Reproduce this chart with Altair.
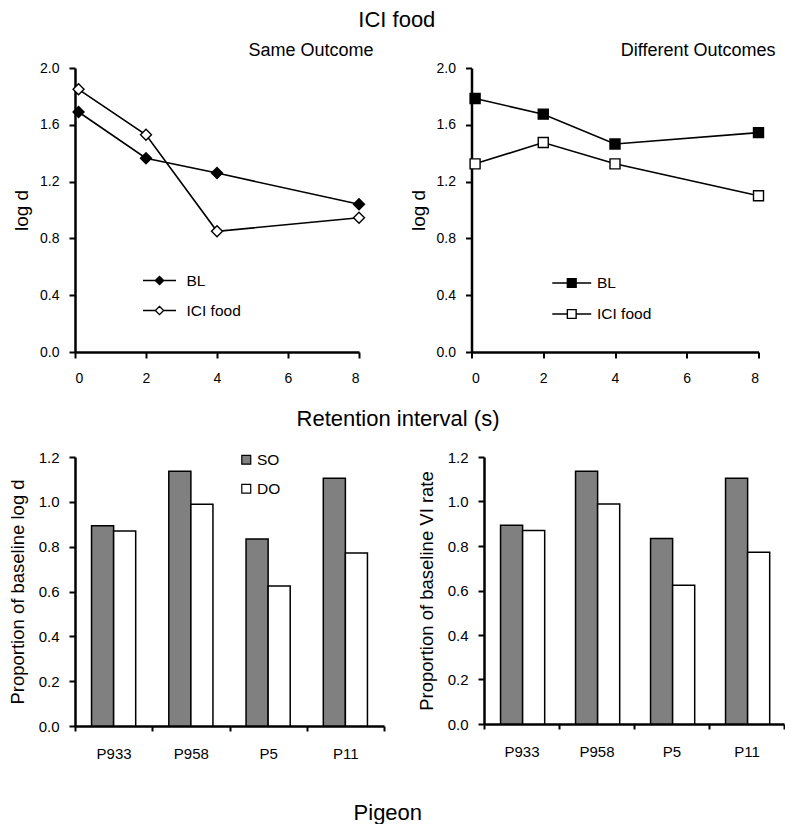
import altair as alt
import pandas as pd

FONT = "Liberation Sans"

# ---- data ----
retention = [0.1, 2, 4, 8]
series_names = ["BL", "ICI food"]
same_bl = [1.69, 1.365, 1.26, 1.04]
same_ici = [1.85, 1.53, 0.85, 0.945]
diff_bl = [1.785, 1.675, 1.465, 1.545]
diff_ici = [1.325, 1.475, 1.325, 1.10]

pigeons = ["P933", "P958", "P5", "P11"]
conds = ["SO", "DO"]
logd_so = [0.893, 1.136, 0.834, 1.105]
logd_do = [0.870, 0.989, 0.624, 0.772]
vi_so = [0.893, 1.136, 0.834, 1.105]
vi_do = [0.870, 0.989, 0.624, 0.772]

y_ticks_top = [0, 0.4, 0.8, 1.2, 1.6, 2.0]
x_ticks_top = [0, 2, 4, 6, 8]
y_ticks_bot = [0, 0.2, 0.4, 0.6, 0.8, 1.0, 1.2]

DIAMOND_LEG = "M-2,0L-0.5,0M-0.5,0L0,-0.5L0.5,0L0,0.5ZM0.5,0L2,0"
SQUARE_LEG = "M-2,0L-0.45,0M-0.45,-0.45L0.45,-0.45L0.45,0.45L-0.45,0.45ZM0.45,0L2,0"


def axis_common(**kw):
    base = dict(domainColor="black", domainWidth=2.5, tickColor="black", tickWidth=2,
                tickSize=6, labelColor="black", titleColor="black", labelFont=FONT,
                titleFont=FONT, titleFontWeight="normal", grid=False)
    base.update(kw)
    return alt.Axis(**base)


def line_panel(bl, ici, title, shape, leg_path, leg_size, leg_x, leg_y, leg_off,
               width, height, pt_size, t_off, t_dx):
    df = pd.DataFrame({
        "x": retention + retention,
        "y": bl + ici,
        "series": [series_names[0]] * 4 + [series_names[1]] * 4,
    })
    x = alt.X("x:Q", scale=alt.Scale(domain=[0, 8], nice=False, zero=False),
              axis=axis_common(values=x_ticks_top, title=None, labelFontSize=14,
                               labelPadding=13, format="d"))
    y = alt.Y("y:Q", scale=alt.Scale(domain=[0, 2], nice=False),
              axis=axis_common(values=y_ticks_top, format=".1f", title="log d",
                               labelFontSize=14, labelPadding=10, titleFontSize=19,
                               titlePadding=8))
    base = alt.Chart(df)
    lines = base.mark_line(color="black", strokeWidth=1.6).encode(x=x, y=y, detail="series:N")
    pts = base.mark_point(shape=shape, filled=True, stroke="black", strokeWidth=1.4,
                          size=pt_size, opacity=1).encode(
        x=x, y=y,
        fill=alt.Fill("series:N",
                      scale=alt.Scale(domain=series_names, range=["black", "white"]),
                      legend=alt.Legend(title=None, orient="none", legendX=leg_x, legendY=leg_y,
                                        symbolType=leg_path, symbolSize=leg_size,
                                        symbolStrokeColor="black", symbolStrokeWidth=1.4,
                                        labelFontSize=15.5, labelFont=FONT, labelColor="black",
                                        labelOffset=leg_off, rowPadding=12)),
    )
    return alt.layer(lines, pts).properties(
        width=width, height=height,
        title=alt.TitleParams(title, anchor="end", frame="group", fontSize=18,
                              fontWeight="normal", font=FONT, color="black",
                              dx=t_dx, offset=t_off),
    )


def bar_panel(so, do, ytitle, width, height, legend):
    df = pd.DataFrame({
        "pigeon": pigeons + pigeons,
        "cond": [conds[0]] * 4 + [conds[1]] * 4,
        "value": so + do,
    })
    if legend:
        leg = alt.Legend(title=None, orient="none", legendX=163.5, legendY=-5,
                         symbolType="square", symbolSize=80, symbolStrokeColor="black",
                         symbolStrokeWidth=1.2, labelFontSize=15.5, labelFont=FONT,
                         labelColor="black", labelOffset=3, rowPadding=12)
    else:
        leg = None
    fill = alt.Fill("cond:N", scale=alt.Scale(domain=conds, range=["#808080", "white"]),
                    legend=leg)
    return alt.Chart(df).mark_bar(stroke="black", strokeWidth=1.5).encode(
        x=alt.X("pigeon:N", sort=pigeons, scale=alt.Scale(paddingInner=0, paddingOuter=0),
                axis=axis_common(title=None, labelAngle=0, tickBand="extent", labelFontSize=15,
                                 labelPadding=15, tickSize=5)),
        xOffset=alt.XOffset("cond:N", sort=conds,
                            scale=alt.Scale(paddingOuter=0.75, paddingInner=0)),
        y=alt.Y("value:Q", scale=alt.Scale(domain=[0, 1.2], nice=False),
                axis=axis_common(values=y_ticks_bot, format=".1f", title=ytitle,
                                 labelFontSize=15, labelPadding=10, titleFontSize=18.5,
                                 titlePadding=10.5)),
        fill=fill,
    ).properties(width=width, height=height)


top_left = line_panel(same_bl, same_ici, "Same Outcome", "diamond", DIAMOND_LEG, 272,
                      75.5, 203.5, 18, 284, 284, 120, 1.5, 14.5)
top_right = line_panel(diff_bl, diff_ici, "Different Outcomes", "square", SQUARE_LEG, 380,
                       89.75, 204.5, 14.75, 287, 284, 100, 1.5, 17)

top = alt.hconcat(top_left, top_right, spacing=34.5,
                  title=alt.TitleParams("Retention interval (s)", orient="bottom",
                                        anchor="middle", fontSize=22, fontWeight="normal",
                                        font=FONT, color="black", offset=24, dx=4)
                  ).resolve_scale(fill="independent")

bot_left = bar_panel(logd_so, logd_do, "Proportion of baseline log d", 309, 269, True)
bot_right = bar_panel(vi_so, vi_do, "Proportion of baseline VI rate", 300, 267, False)

bottom = alt.hconcat(bot_left, bot_right, spacing=32,
                     title=alt.TitleParams("Pigeon", orient="bottom", anchor="middle",
                                           fontSize=22, fontWeight="normal", font=FONT,
                                           color="black", offset=42, dx=-9)
                     ).resolve_scale(fill="independent")

chart = alt.vconcat(top, bottom, spacing=20,
                    title=alt.TitleParams("ICI food", anchor="middle", fontSize=22,
                                          fontWeight="normal", font=FONT, color="black",
                                          offset=10)
                    ).resolve_scale(fill="independent").properties(
    padding={"left": 0, "top": 0, "right": 0, "bottom": 0}
).configure(font=FONT).configure_view(stroke=None)

chart.save("out.html", embed_options={"renderer": "svg", "actions": False})
